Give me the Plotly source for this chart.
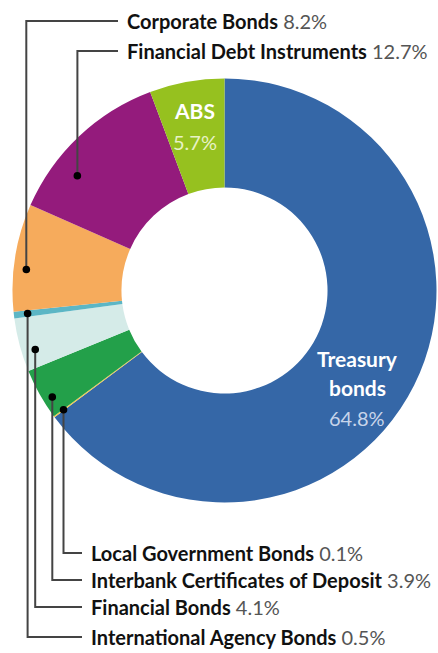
import math
import plotly.graph_objects as go

# ---- data ----
categories = ["Treasury bonds", "Local Government Bonds", "Interbank Certificates of Deposit",
              "Financial Bonds", "International Agency Bonds", "Corporate Bonds",
              "Financial Debt Instruments", "ABS"]
values = [64.8, 0.1, 3.9, 4.1, 0.5, 8.2, 12.7, 5.7]
colors = ["#3567a7", "#f7c948", "#23a04a", "#d5ebe8", "#5cb6c5", "#f6ab5c", "#941b7c", "#96c11f"]

# ---- layout / style ----
W, H = 438, 653
CX, CY, R = 224.5, 290.5, 212.0
HOLE = 0.486
FONT = "Lato"

# outside labels: category index -> (anchor fraction within slice, anchor radius frac, label row y, side)
outside = {
    5: (0.40, 0.94, 21, "top"),
    6: (0.31, 0.88, 51, "top"),
    1: (0.50, 0.945, 553, "bottom"),
    2: (0.33, 0.955, 580, "bottom"),
    3: (0.34, 0.935, 607, "bottom"),
    4: (0.50, 0.935, 637, "bottom"),
}
inside = {0: (0.54, 0.775), 7: (0.50, 0.79)}
inside_text = {0: ["Treasury", "bonds"], 7: ["ABS"]}
inside_pct_color = {0: "#c8d5ea", 7: "#e8f2c6"}

total = sum(values)
starts = []
acc = 0.0
for v in values:
    starts.append(acc)
    acc += v


def pt(angle_deg, r):
    a = math.radians(angle_deg)
    return CX + r * math.sin(a), CY - r * math.cos(a)


fig = go.Figure()
fig.add_trace(go.Pie(
    labels=categories, values=values, sort=False, direction="clockwise", rotation=0,
    hole=HOLE, textinfo="none", hoverinfo="label+percent",
    marker=dict(colors=colors, line=dict(width=0)),
    domain=dict(x=[(CX - R) / W, (CX + R) / W], y=[1 - (CY + R) / H, 1 - (CY - R) / H]),
    showlegend=False,
))

shapes = []
annotations = []
for i, (frac, rf, row_y, side) in outside.items():
    ang = (starts[i] + frac * values[i]) / total * 360
    dx, dy = pt(ang, rf * R)
    tx = 128 if side == "top" else 92
    line = dict(type="path", path=f"M {dx:.1f},{dy:.1f} L {dx:.1f},{row_y} L {tx - 10},{row_y}",
                xref="x", yref="y", line=dict(color="#444444", width=2))
    shapes.append(line)
    shapes.append(dict(type="circle", xref="x", yref="y", x0=dx - 3.8, x1=dx + 3.8, y0=dy - 3.8, y1=dy + 3.8,
                       fillcolor="#000000", line=dict(width=0)))
    annotations.append(dict(
        x=tx - 3, y=row_y, xref="x", yref="y", xanchor="left", yanchor="middle", showarrow=False,
        text=f"<b>{categories[i]}</b> <span style='color:#555555'>{values[i]:.1f}%</span>",
        font=dict(family=FONT, size=20, color="#111111"),
    ))

for i, (frac, rf) in inside.items():
    ang = (starts[i] + frac * values[i]) / total * 360
    x, y = pt(ang, rf * R)
    lines = inside_text[i]
    n = len(lines)
    ys = [y - 29 * (n - k) + (29 if n == 2 else 14) for k in range(n)]
    for k, t in enumerate(lines):
        annotations.append(dict(x=x, y=ys[k], xref="x", yref="y", showarrow=False,
                                text=f"<b>{t}</b>", font=dict(family=FONT, size=21, color="white")))
    annotations.append(dict(x=x, y=ys[-1] + 31, xref="x", yref="y", showarrow=False,
                            text=f"{values[i]:.1f}%", font=dict(family=FONT, size=20, color=inside_pct_color[i])))

fig.update_layout(
    width=W, height=H, margin=dict(l=0, r=0, t=0, b=0),
    paper_bgcolor="white", plot_bgcolor="rgba(0,0,0,0)",
    xaxis=dict(range=[0, W], visible=False, fixedrange=True, domain=[0, 1]),
    yaxis=dict(range=[H, 0], visible=False, fixedrange=True, domain=[0, 1]),
    shapes=shapes, annotations=annotations,
)
fig.write_html("out.html")
